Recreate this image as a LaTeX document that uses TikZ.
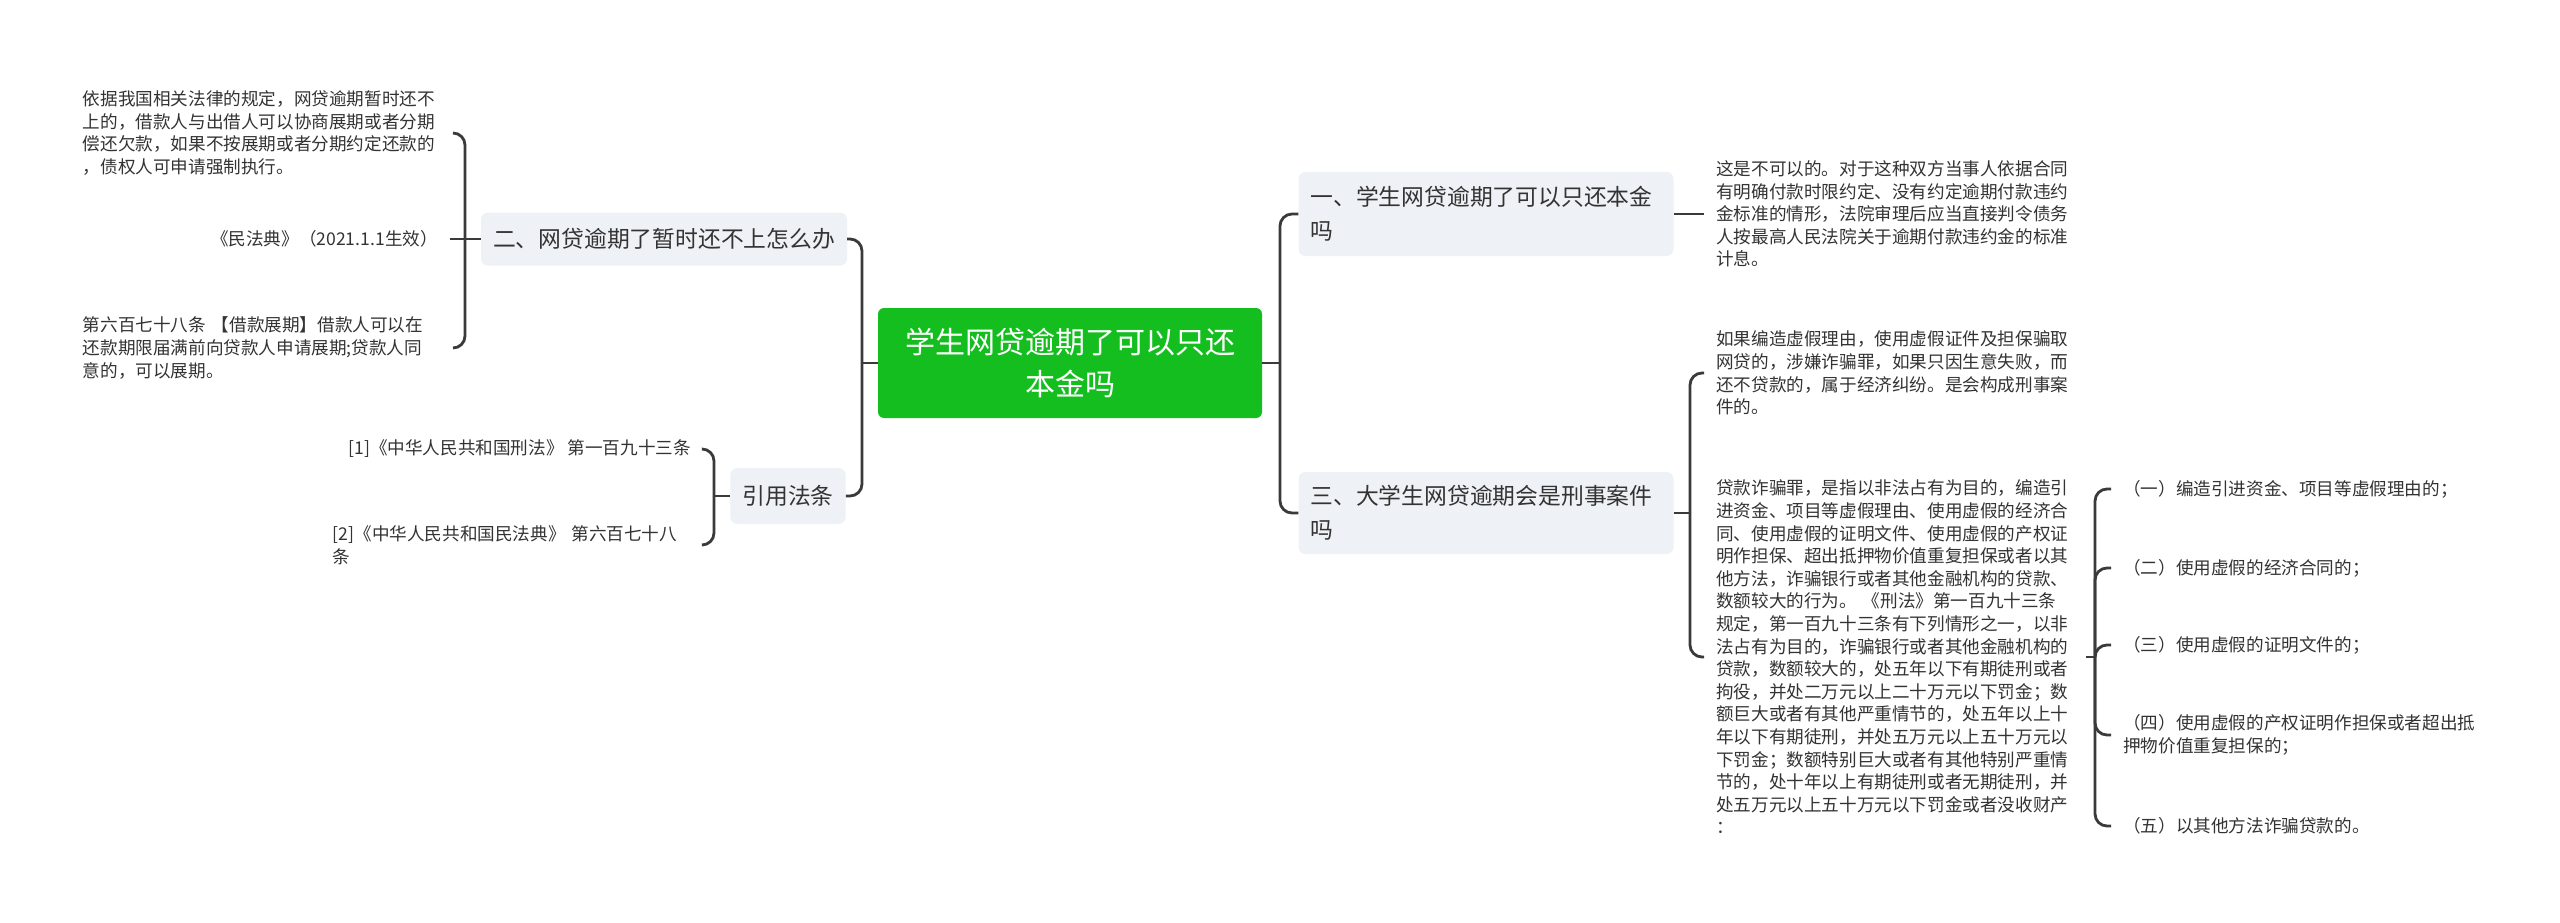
\documentclass[tikz,border=0pt]{standalone}
\usepackage{fontspec}
\newfontfamily\cjk{Noto Sans CJK SC}
\usepackage{xcolor}
\definecolor{rootgreen}{RGB}{21,190,31}
\definecolor{topicgray}{RGB}{238,241,245}
\definecolor{inkgray}{RGB}{51,51,51}
\definecolor{linegray}{RGB}{58,58,58}

\begin{document}
\begin{tikzpicture}[x=1pt,y=-1pt,
    root/.style={fill=rootgreen, rounded corners=6pt, text=white, align=center,
        minimum width=384pt, minimum height=110pt, font=\cjk\fontsize{30}{42}\selectfont},
    topic/.style={fill=topicgray, rounded corners=7pt, text=inkgray, inner xsep=12pt,
        font=\cjk\fontsize{22.8}{34}\selectfont},
    leaf/.style={text=inkgray, inner xsep=12pt, align=left,
        font=\cjk\fontsize{17.6}{22.6}\selectfont},
    leafw/.style={leaf, text width=358pt},
    link/.style={draw=linegray, line width=2.8pt, rounded corners=12pt}]
        \fill[white] (0,0) rectangle (2560,923);
        \useasboundingbox (0,0) rectangle (2560,923);

        % Centre
        \node[root] (root) at (1070,363) {学生网贷逾期了可以只还\\本金吗};

        % Left topics
        \node[topic, minimum width=364pt, minimum height=53pt] (delay) at (664,239) {二、网贷逾期了暂时还不上怎么办};
        \node[topic, minimum width=113pt, minimum height=56pt] (laws) at (788,496) {引用法条};

        % Right topics
        \node[topic, text width=351pt, align=left, minimum height=84pt] (onlyprin) at (1486,214) {一、学生网贷逾期了可以只还本金\\吗};
        \node[topic, text width=351pt, align=left, minimum height=82pt] (crime) at (1486,513) {三、大学生网贷逾期会是刑事案件\\吗};

        % Left leaves
        \node[leafw, anchor=east] (lawrule) at (453,133) {依据我国相关法律的规定，网贷逾期暂时还不\\上的，借款人与出借人可以协商展期或者分期\\偿还欠款，如果不按展期或者分期约定还款的\\，债权人可申请强制执行。};
        \node[leaf, anchor=east] (civcode) at (450,239) {《民法典》（2021.1.1生效）};
        \node[leafw, anchor=east] (art678) at (453,348) {第六百七十八条 【借款展期】借款人可以在\\还款期限届满前向贷款人申请展期;贷款人同\\意的，可以展期。};
        \node[leaf, anchor=east] (ref1) at (703,449) {[1]《中华人民共和国刑法》 第一百九十三条};
        \node[leafw, anchor=east] (ref2) at (703,545) {[2]《中华人民共和国民法典》 第六百七十八\\条};

        % Right leaves
        \node[leafw, anchor=west] (answer) at (1704,214) {这是不可以的。对于这种双方当事人依据合同\\有明确付款时限约定、没有约定逾期付款违约\\金标准的情形，法院审理后应当直接判令债务\\人按最高人民法院关于逾期付款违约金的标准\\计息。};
        \node[leafw, anchor=west] (fraud) at (1704,373) {如果编造虚假理由，使用虚假证件及担保骗取\\网贷的，涉嫌诈骗罪，如果只因生意失败，而\\还不贷款的，属于经济纠纷。是会构成刑事案\\件的。};
        \node[leafw, anchor=west] (loanfraud) at (1704,657) {贷款诈骗罪，是指以非法占有为目的，编造引\\进资金、项目等虚假理由、使用虚假的经济合\\同、使用虚假的证明文件、使用虚假的产权证\\明作担保、超出抵押物价值重复担保或者以其\\他方法，诈骗银行或者其他金融机构的贷款、\\数额较大的行为。 《刑法》第一百九十三条\\规定，第一百九十三条有下列情形之一，以非\\法占有为目的，诈骗银行或者其他金融机构的\\贷款，数额较大的，处五年以下有期徒刑或者\\拘役，并处二万元以上二十万元以下罚金；数\\额巨大或者有其他严重情节的，处五年以上十\\年以下有期徒刑，并处五万元以上五十万元以\\下罚金；数额特别巨大或者有其他特别严重情\\节的，处十年以上有期徒刑或者无期徒刑，并\\处五万元以上五十万元以下罚金或者没收财产\\：};

        % Cases
        \node[leaf, anchor=west] (case1) at (2111,489) {（一）编造引进资金、项目等虚假理由的；};
        \node[leaf, anchor=west] (case2) at (2111,568) {（二）使用虚假的经济合同的；};
        \node[leaf, anchor=west] (case3) at (2111,645) {（三）使用虚假的证明文件的；};
        \node[leaf, anchor=west] (case4) at (2111,735) {（四）使用虚假的产权证明作担保或者超出抵\\押物价值重复担保的；};
        \node[leaf, anchor=west] (case5) at (2111,826) {（五）以其他方法诈骗贷款的。};

        % Split points
        \coordinate (lsplit) at (862,363);
        \coordinate (rsplit) at (1280,363);
        \coordinate (delaysplit) at (465,239);
        \coordinate (lawsplit) at (714,496);
        \coordinate (crimesplit) at (1690,513);
        \coordinate (casesplit) at (2095,657);

        % Links
        \draw[link] (root.west) -- (lsplit);
        \draw[link] (lsplit) |- (delay.east);
        \draw[link] (lsplit) |- (laws.east);
        \draw[link] (root.east) -- (rsplit);
        \draw[link] (rsplit) |- (onlyprin.west);
        \draw[link] (rsplit) |- (crime.west);

        \draw[link] (delay.west) -- (delaysplit);
        \draw[link] (delaysplit) |- (lawrule.east);
        \draw[link] (delaysplit) -- (civcode.east);
        \draw[link] (delaysplit) |- (art678.east);

        \draw[link] (laws.west) -- (lawsplit);
        \draw[link] (lawsplit) |- (ref1.east);
        \draw[link] (lawsplit) |- (ref2.east);

        \draw[link] (onlyprin.east) -- (answer.west);

        \draw[link] (crime.east) -- (crimesplit);
        \draw[link] (crimesplit) |- (fraud.west);
        \draw[link] (crimesplit) |- (loanfraud.west);

        \draw[link] (loanfraud.east) -- (casesplit);
        \foreach \c in {case1,case2,case3,case4,case5}
            \draw[link] (casesplit) |- (\c.west);
\end{tikzpicture}
\end{document}
